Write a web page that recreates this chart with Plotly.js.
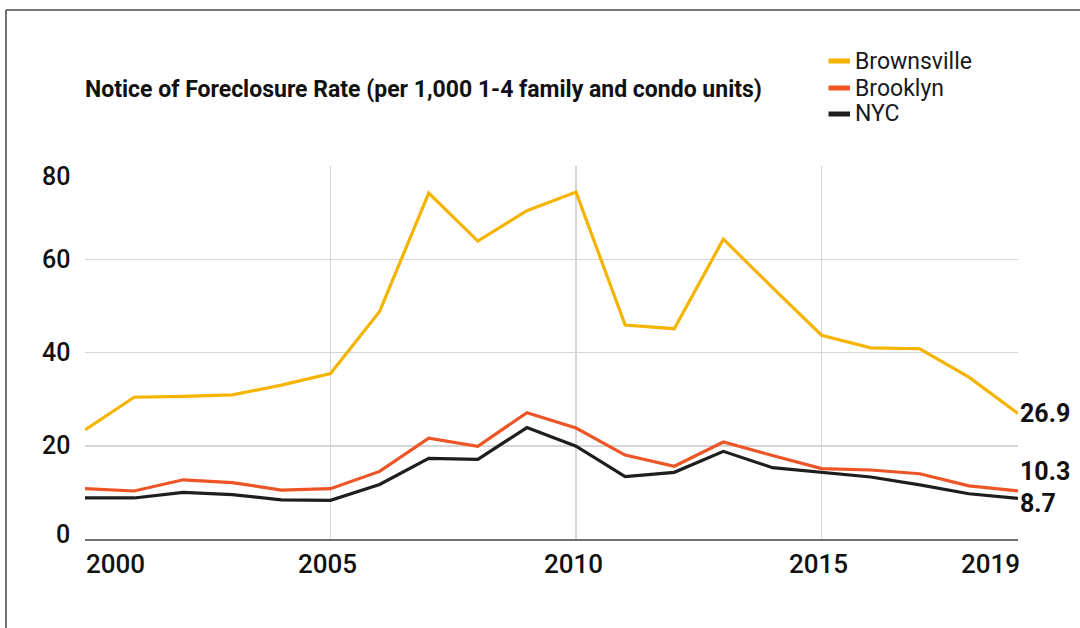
<!DOCTYPE html>
<html>
<head>
<meta charset="utf-8">
<script src="https://cdn.plot.ly/plotly-3.0.1.min.js"></script>
<style>
  html, body { margin: 0; padding: 0; background: #ffffff; }
  #chart { width: 1080px; height: 628px; }
</style>
</head>
<body>
<div id="chart"></div>
<script>
// Notice of foreclosure rate, per 1,000 1-4 family and condo units
const years = [2000, 2001, 2002, 2003, 2004, 2005, 2006, 2007, 2008, 2009,
               2010, 2011, 2012, 2013, 2014, 2015, 2016, 2017, 2018, 2019];
const brownsville = [23.4, 30.4, 30.6, 30.9, 33.0, 35.5, 48.8, 74.2, 63.9, 70.4,
                     74.4, 45.9, 45.1, 64.3, 53.9, 43.7, 41.0, 40.8, 34.7, 26.9];
const brooklyn = [10.8, 10.3, 12.7, 12.1, 10.5, 10.8, 14.5, 21.6, 19.9, 27.1,
                  23.8, 18.0, 15.6, 20.8, 17.9, 15.1, 14.8, 14.0, 11.4, 10.3];
const nyc = [8.8, 8.8, 10.0, 9.5, 8.4, 8.3, 11.7, 17.3, 17.1, 23.9,
             19.9, 13.4, 14.3, 18.8, 15.3, 14.3, 13.3, 11.6, 9.7, 8.7];

const seriesNames = ["Brownsville", "Brooklyn", "NYC"];
const seriesColors = ["#f4b400", "#ee5526", "#1e1e1e"];
const seriesValues = [brownsville, brooklyn, nyc];

const xTickLabels = [2000, 2005, 2010, 2015, 2019];
const xGridYears = [2000, 2005, 2010, 2015];
const yTickValues = [0, 20, 40, 60, 80];

const titleText = "Notice of Foreclosure Rate (per 1,000 1-4 family and condo units)";

// page geometry
const W = 1080, H = 628;
const M = { l: 85, r: 62, t: 166, b: 89 };
const plotW = W - M.l - M.r, plotH = H - M.t - M.b;
const paperX = px => (px - M.l) / plotW;
const paperY = py => (H - M.b - py) / plotH;

const FONT = "Roboto, 'Open Sans', sans-serif";
const INK = "#111111";

const traces = seriesValues.map((vals, i) => ({
  type: "scatter",
  mode: "lines",
  x: years,
  y: vals,
  name: seriesNames[i],
  line: { color: seriesColors[i], width: 3.2 },
  showlegend: false,
  hoverinfo: "skip"
}));
// draw the city-wide lines on top
traces.reverse();

const annotations = [];
const shapes = [];

// x tick labels
xTickLabels.forEach((yr, i) => {
  const first = i === 0, last = i === xTickLabels.length - 1;
  annotations.push({
    xref: "x", yref: "paper",
    x: yr, y: paperY(564),
    text: String(yr),
    showarrow: false,
    xanchor: first ? "left" : (last ? "right" : "center"),
    yanchor: "middle",
    xshift: first ? -1 : (last ? 4 : -3),
    font: { family: FONT, size: 26, color: INK, weight: 500 }
  });
});

// y tick labels
yTickValues.forEach((v, i) => {
  const top = i === yTickValues.length - 1, bottom = i === 0;
  annotations.push({
    xref: "paper", yref: "y",
    x: 0, y: v,
    text: String(v),
    showarrow: false,
    xanchor: "right", yanchor: "middle",
    xshift: -13,
    yshift: top ? -10 : (bottom ? 5 : 0),
    font: { family: FONT, size: 25, color: INK, weight: 500 }
  });
});

// end-of-line value labels (Brooklyn lifted, NYC nudged down so they stack)
const endShift = [0, 19, -5];
seriesValues.forEach((vals, i) => {
  const v = vals[vals.length - 1];
  annotations.push({
    xref: "x", yref: "y",
    x: years[years.length - 1], y: v,
    text: v.toFixed(1),
    showarrow: false,
    borderpad: 0,
    xanchor: "left", yanchor: "middle",
    xshift: 1, yshift: endShift[i],
    font: { family: FONT, size: 25, color: INK, weight: 700 }
  });
});

// legend: short thick swatches with labels
const legendRows = [61, 88, 114];
seriesNames.forEach((name, i) => {
  shapes.push({
    type: "line", xref: "paper", yref: "paper",
    x0: paperX(828.5), x1: paperX(850),
    y0: paperY(legendRows[i]), y1: paperY(legendRows[i]),
    line: { color: seriesColors[i], width: 5 }
  });
  annotations.push({
    xref: "paper", yref: "paper",
    x: paperX(853), y: paperY(legendRows[i]),
    text: name,
    showarrow: false,
    xanchor: "left", yanchor: "middle",
    font: { family: FONT, size: 23, color: "#1a1a1a" }
  });
});

// outer frame (left and top edges)
shapes.push({
  type: "line", xref: "paper", yref: "paper",
  x0: paperX(6), x1: paperX(6), y0: paperY(10), y1: paperY(H + 5),
  line: { color: "#4d4d4d", width: 1.6 }
});
shapes.push({
  type: "line", xref: "paper", yref: "paper",
  x0: paperX(6), x1: paperX(W + 5), y0: paperY(10), y1: paperY(10),
  line: { color: "#4d4d4d", width: 1.6 }
});

const layout = {
  width: W, height: H,
  margin: M,
  paper_bgcolor: "#ffffff",
  plot_bgcolor: "#ffffff",
  title: {
    text: titleText,
    x: M.l / W, xanchor: "left",
    y: 1 - 89 / H, yanchor: "middle",
    font: { family: FONT, size: 23, color: INK, weight: 700 }
  },
  xaxis: {
    range: [2000, 2019],
    tickmode: "array",
    tickvals: xGridYears,
    showticklabels: false,
    ticks: "",
    showgrid: true,
    gridcolor: "#d6d6d6",
    gridwidth: 1.5,
    zeroline: false,
    showline: true,
    linecolor: "#707070",
    linewidth: 2,
    fixedrange: true
  },
  yaxis: {
    range: [0, 80],
    tickmode: "array",
    tickvals: yTickValues,
    showticklabels: false,
    ticks: "",
    showgrid: true,
    gridcolor: "#d6d6d6",
    gridwidth: 1.5,
    zeroline: false,
    showline: false,
    fixedrange: true
  },
  showlegend: false,
  annotations: annotations,
  shapes: shapes
};

Plotly.newPlot("chart", traces, layout, { displayModeBar: false, staticPlot: true });
</script>
</body>
</html>
